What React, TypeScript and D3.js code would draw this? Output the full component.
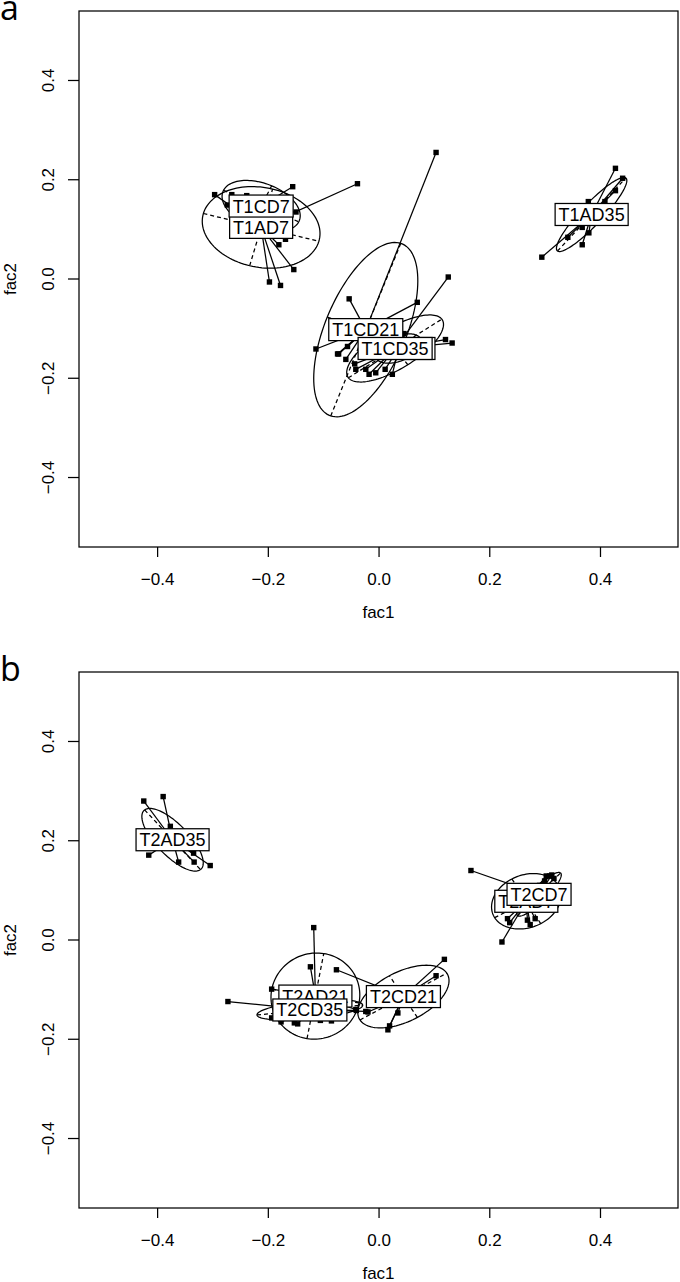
import React from 'react'
import * as d3 from 'd3'

type Pt = [number, number]

// shared axis ticks
const tickValues = [-0.4, -0.2, 0, 0.2, 0.4]
const tickLabels = ['\u22120.4', '\u22120.2', '0.0', '0.2', '0.4']

// ---- panel a (T1) ----
const namesA = ['T1AD21', 'T1AD35', 'T1AD7', 'T1CD21', 'T1CD35', 'T1CD7']
const centroidsA: Pt[] = [
  [0.035, -0.14],
  [0.384, 0.13],
  [-0.213, 0.104],
  [-0.024, -0.102],
  [0.029, -0.14],
  [-0.213, 0.147],
]
// semi-axis a, semi-axis b, angle (deg)
const ellipsesA = [
  [0.045, 0.025, 25],
  [0.096, 0.02, 50],
  [0.108, 0.08, -15],
  [0.185, 0.074, 70],
  [0.103, 0.04, 35],
  [0.075, 0.045, -25],
]
const ptsT1AD21: Pt[] = [[0.011, -0.182], [0.024, -0.192], [0.06, -0.125], [0.045, -0.11]]
const ptsT1AD35: Pt[] = [
  [0.427, 0.223], [0.44, 0.203], [0.427, 0.178], [0.378, 0.156], [0.408, 0.156],
  [0.367, 0.104], [0.379, 0.093], [0.341, 0.084], [0.367, 0.069], [0.294, 0.044],
]
const ptsT1AD7: Pt[] = [
  [-0.297, 0.17], [-0.039, 0.192], [-0.154, 0.019], [-0.198, -0.006], [-0.178, -0.013],
  [-0.181, 0.069], [-0.169, 0.08], [-0.24, 0.11],
]
const ptsT1CD21: Pt[] = [
  [0.103, 0.255], [-0.054, -0.04], [-0.114, -0.141], [-0.075, -0.151], [-0.057, -0.136],
  [0.069, -0.047], [-0.06, -0.162], [-0.073, -0.151],
]
const ptsT1CD35: Pt[] = [
  [0.125, 0.004], [0.12, -0.122], [0.132, -0.129], [-0.042, -0.182], [-0.024, -0.182],
  [-0.018, -0.192], [-0.006, -0.189], [-0.044, -0.171],
]
const ptsT1CD7: Pt[] = [[-0.266, 0.17], [-0.239, 0.168], [-0.156, 0.186], [-0.274, 0.149], [-0.15, 0.135]]
const pointsA = [ptsT1AD21, ptsT1AD35, ptsT1AD7, ptsT1CD21, ptsT1CD35, ptsT1CD7]

// ---- panel b (T2) ----
const namesB = ['T2AD21', 'T2AD35', 'T2AD7', 'T2CD21', 'T2CD35', 'T2CD7']
const centroidsB: Pt[] = [
  [-0.115, -0.113],
  [-0.373, 0.202],
  [0.266, 0.078],
  [0.044, -0.114],
  [-0.125, -0.141],
  [0.289, 0.092],
]
const ellipsesB = [
  [0.087, 0.08, 80],
  [0.0785, 0.03, -50],
  [0.066, 0.052, 30],
  [0.0915, 0.049, 31],
  [0.096, 0.018, 6],
  [0.058, 0.014, 48],
]
const ptsT2AD21: Pt[] = [
  [-0.118, 0.025], [-0.124, -0.054], [-0.194, -0.099], [-0.042, -0.14], [-0.106, -0.162],
  [-0.086, -0.163], [-0.16, -0.12],
]
const ptsT2AD35: Pt[] = [
  [-0.425, 0.28], [-0.39, 0.289], [-0.377, 0.229], [-0.416, 0.171], [-0.362, 0.157],
  [-0.334, 0.157], [-0.335, 0.175], [-0.305, 0.15],
]
const ptsT2AD7: Pt[] = [
  [0.222, -0.004], [0.232, 0.043], [0.236, 0.035], [0.268, 0.04], [0.273, 0.031],
  [0.282, 0.043], [0.302, 0.129], [0.308, 0.129],
]
const ptsT2CD21: Pt[] = [
  [-0.077, -0.06], [0.118, -0.039], [0.103, -0.072], [0.034, -0.147], [0.019, -0.173],
  [0.016, -0.181], [-0.02, -0.145],
]
const ptsT2CD35: Pt[] = [
  [-0.273, -0.124], [-0.194, -0.157], [-0.177, -0.165], [-0.153, -0.167], [-0.147, -0.169],
  [-0.024, -0.144], [-0.041, -0.142],
]
const ptsT2CD7: Pt[] = [[0.166, 0.14], [0.316, 0.124], [0.299, 0.119], [0.312, 0.131], [0.29, 0.11]]
const pointsB = [ptsT2AD21, ptsT2AD35, ptsT2AD7, ptsT2CD21, ptsT2CD35, ptsT2CD7]

const FONT = "'Liberation Sans', Arial, Helvetica, sans-serif"
const INK = '#000'
const SW = 1.25

let ctx: CanvasRenderingContext2D | null = null
function textWidth(s: string, size: number) {
  if (!ctx) ctx = document.createElement('canvas').getContext('2d')
  if (!ctx) return s.length * size * 0.6
  ctx.font = `${size}px ${FONT}`
  return ctx.measureText(s).width
}

interface PanelProps {
  letter: string
  top: number
  names: string[]
  centroids: Pt[]
  ellipses: number[][]
  points: Pt[][]
}

function Panel({ letter, top, names, centroids, ellipses, points }: PanelProps) {
  const x = d3.scaleLinear().domain([-0.542, 0.54]).range([79, 678])
  const y = d3.scaleLinear().domain([-0.54, 0.54]).range([top + 547, top + 11])
  const [x0, x1] = x.range()
  const [y0, y1] = [y(0.54), y(-0.54)]

  const ell = (c: Pt, e: number[]) => {
    const [a, b, deg] = e
    const th = (deg * Math.PI) / 180
    const ts = d3.range(0, 2 * Math.PI + 0.001, Math.PI / 60)
    return d3
      .line<number>()
      .x((t) => x(c[0] + a * Math.cos(t) * Math.cos(th) - b * Math.sin(t) * Math.sin(th)))
      .y((t) => y(c[1] + a * Math.cos(t) * Math.sin(th) + b * Math.sin(t) * Math.cos(th)))(ts) ?? ''
  }

  return (
    <g>
      <text x={0} y={top + 20} fontFamily="'Open Sans', sans-serif" fontSize={34} fill={INK}>
        {letter}
      </text>

      {/* frame */}
      <rect x={x0} y={y0} width={x1 - x0} height={y1 - y0} fill="none" stroke={INK} strokeWidth={SW} />

      {/* x axis */}
      {tickValues.map((v, i) => (
        <g key={'x' + i}>
          <line x1={x(v)} x2={x(v)} y1={y1} y2={y1 + 10} stroke={INK} strokeWidth={SW} />
          <text x={x(v)} y={y1 + 38} textAnchor="middle" fontFamily={FONT} fontSize={17} fill={INK}>
            {tickLabels[i]}
          </text>
        </g>
      ))}
      <text x={(x0 + x1) / 2} y={y1 + 71} textAnchor="middle" fontFamily={FONT} fontSize={17} fill={INK}>
        fac1
      </text>

      {/* y axis */}
      {tickValues.map((v, i) => (
        <g key={'y' + i}>
          <line x1={x0 - 11} x2={x0} y1={y(v)} y2={y(v)} stroke={INK} strokeWidth={SW} />
          <text
            transform={`translate(54,${y(v)}) rotate(-90)`}
            textAnchor="middle"
            fontFamily={FONT}
            fontSize={17}
            fill={INK}
          >
            {tickLabels[i]}
          </text>
        </g>
      ))}
      <text
        transform={`translate(16,${(y0 + y1) / 2}) rotate(-90)`}
        textAnchor="middle"
        fontFamily={FONT}
        fontSize={17}
        fill={INK}
      >
        fac2
      </text>

      {/* ellipses with dashed axes */}
      {names.map((n, i) => {
        const c = centroids[i]
        const [a, b, deg] = ellipses[i]
        const th = (deg * Math.PI) / 180
        const ux = Math.cos(th), uy = Math.sin(th)
        return (
          <g key={'e' + n} fill="none" stroke={INK} strokeWidth={SW}>
            <path d={ell(c, ellipses[i])} />
            <line
              x1={x(c[0] - a * ux)} y1={y(c[1] - a * uy)}
              x2={x(c[0] + a * ux)} y2={y(c[1] + a * uy)}
              strokeDasharray="4,3"
            />
            <line
              x1={x(c[0] + b * uy)} y1={y(c[1] - b * ux)}
              x2={x(c[0] - b * uy)} y2={y(c[1] + b * ux)}
              strokeDasharray="4,3"
            />
          </g>
        )
      })}

      {/* stars */}
      {names.map((n, i) => (
        <g key={'s' + n} stroke={INK} strokeWidth={SW}>
          {points[i].map((p, j) => (
            <line key={j} x1={x(centroids[i][0])} y1={y(centroids[i][1])} x2={x(p[0])} y2={y(p[1])} />
          ))}
        </g>
      ))}

      {/* points */}
      {names.map((n, i) => (
        <g key={'p' + n} fill={INK}>
          {points[i].map((p, j) => (
            <rect key={j} x={x(p[0]) - 2.7} y={y(p[1]) - 2.7} width={5.4} height={5.4} />
          ))}
        </g>
      ))}

      {/* labels */}
      {names.map((n, i) => {
        const cx = x(centroids[i][0])
        const cy = y(centroids[i][1])
        const w = textWidth(n, 18) + 7
        const h = 22
        return (
          <g key={'l' + n}>
            <rect x={cx - w / 2} y={cy - h / 2} width={w} height={h} fill="#fff" stroke={INK} strokeWidth={SW} />
            <text x={cx} y={cy + 6.5} textAnchor="middle" fontFamily={FONT} fontSize={18} fill={INK}>
              {n}
            </text>
          </g>
        )
      })}
    </g>
  )
}

export default function App() {
  return (
    <>
      <style>{`body{margin:0;background:#fff}`}</style>
      <svg width={680} height={1282} viewBox="0 0 680 1282" style={{ display: 'block' }}>
        <rect x={0} y={0} width={680} height={1282} fill="#fff" />
        <Panel letter="a" top={0} names={namesA} centroids={centroidsA} ellipses={ellipsesA} points={pointsA} />
        <Panel letter="b" top={661} names={namesB} centroids={centroidsB} ellipses={ellipsesB} points={pointsB} />
      </svg>
    </>
  )
}
